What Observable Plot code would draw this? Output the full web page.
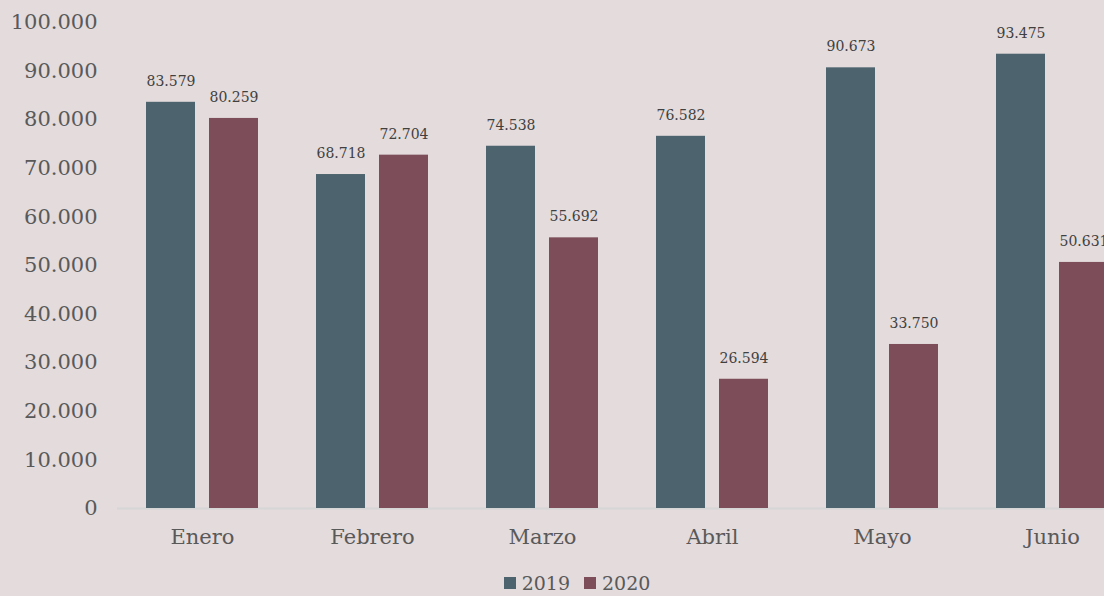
<!DOCTYPE html>
<html>
<head>
<meta charset="utf-8">
<script src="https://cdn.jsdelivr.net/npm/d3@7"></script>
<script src="https://cdn.jsdelivr.net/npm/@observablehq/plot@0.6"></script>
<style>
  html, body { margin: 0; padding: 0; background: #e3dbdc; width: 1104px; height: 596px; overflow: hidden; }
  #chart svg { display: block; }
  #legend { display: flex; justify-content: center; align-items: center; gap: 14px; margin-top: 12px;
    font-family: "DejaVu Serif", serif; font-size: 19px; color: #595959; padding-left: 50px; }
  .sw { display: inline-flex; align-items: center; gap: 6px; }
  .sq { width: 12px; height: 12px; display: inline-block; }
</style>
</head>
<body>
<div id="chart"></div>
<div id="legend"></div>
<script>
const months = ["Enero", "Febrero", "Marzo", "Abril", "Mayo", "Junio"];
const years = ["2019", "2020"];
const values2019 = [83579, 68718, 74538, 76582, 90673, 93475];
const values2020 = [80259, 72704, 55692, 26594, 33750, 50631];
const colors = ["#4d646e", "#7d4e5a"];
const yTicks = [0, 10000, 20000, 30000, 40000, 50000, 60000, 70000, 80000, 90000, 100000];

const data = months.flatMap((m, i) => [
  {month: m, year: years[0], value: values2019[i]},
  {month: m, year: years[1], value: values2020[i]}
]);

const loc = d3.formatLocale({decimal: ",", thousands: ".", grouping: [3], currency: ["", ""]});
const fmt = loc.format(",d");

const chart = Plot.plot({
  width: 1104,
  height: 560,
  marginLeft: 117,
  marginRight: -33,
  marginTop: 22,
  marginBottom: 52,
  style: {background: "transparent", fontFamily: "DejaVu Serif, serif", overflow: "hidden"},
  fx: {domain: months, padding: 0, label: null, axis: null},
  x: {domain: years, axis: null, paddingInner: 0.222, paddingOuter: 0.456},
  y: {domain: [0, 100000], axis: null},
  color: {domain: years, range: colors},
  marks: [
    Plot.ruleY([0], {stroke: "#d6d6d6", strokeWidth: 2}),
    Plot.barY(data, {fx: "month", x: "year", y: "value", fill: "year"}),
    Plot.text(data, {fx: "month", x: "year", y: "value", text: d => fmt(d.value), dy: -21,
      fontSize: 14, fill: "#404040"}),
    Plot.axisY(yTicks, {tickSize: 0, tickPadding: 20, tickFormat: fmt, fontSize: 21, fill: "#595959", label: null}),
    Plot.axisFx({anchor: "bottom", tickSize: 0, tickPadding: 21, fontSize: 21, fill: "#595959", label: null})
  ]
});
document.getElementById("chart").appendChild(chart);

const legend = document.getElementById("legend");
years.forEach((y, i) => {
  const s = document.createElement("span");
  s.className = "sw";
  s.innerHTML = `<span class="sq" style="background:${colors[i]}"></span><span>${y}</span>`;
  legend.appendChild(s);
});
</script>
</body>
</html>
